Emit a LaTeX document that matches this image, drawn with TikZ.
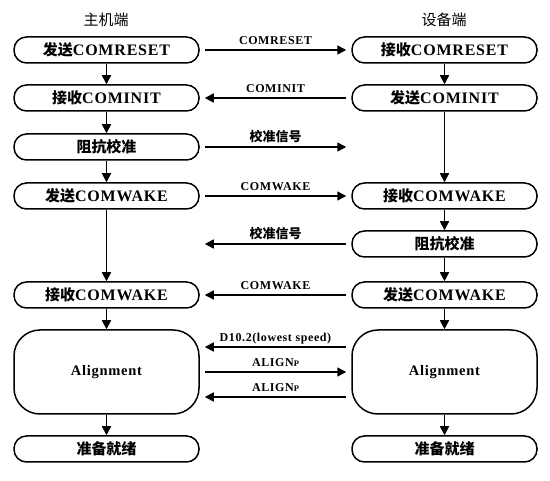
\documentclass[tikz,border=0pt]{standalone}
\usepackage{fontspec}
\setmainfont{Liberation Serif}[LetterSpace=5]
\newfontfamily\cjkb{Noto Sans CJK SC Medium}
\newfontfamily\cjkr{Noto Sans CJK SC}
\usetikzlibrary{arrows.meta}
\newcommand\zh[1]{{\fontsize{15}{15}\selectfont\cjkb #1}}
\newcommand\zhs[1]{{\fontsize{13}{13}\selectfont\cjkb #1}}
\newcommand\alp{ALIGN{\fontsize{8.5}{8.5}\selectfont P}}
\begin{document}
\begin{tikzpicture}[x=1pt,y=-1pt,
  box/.style={draw, line width=1.5pt, rounded corners=12.5pt, minimum width=185pt, minimum height=26pt, inner sep=0pt, font=\fontsize{16}{16}\selectfont\bfseries},
  bigbox/.style={box, rounded corners=26pt, minimum height=84pt, font=\fontsize{14.5}{14.5}\selectfont\bfseries},
  header/.style={inner sep=0pt, font=\fontsize{15}{15}\selectfont\cjkr},
  flow/.style={line width=1.6pt, -{Triangle[length=9pt,width=9pt]}},
  sig/.style={flow, shorten <=5pt, shorten >=5pt},
  lab/.style={anchor=base, inner sep=0pt, font=\fontsize{12}{12}\selectfont\bfseries},
]
\useasboundingbox (0,0) rectangle (550,481);

\node[header] (hl) at (106,20) {主机端};
\node[header] (hr) at (444,20) {设备端};

% host side
\node[box] (L1) at (106.5,50) {\zh{发送}COMRESET};
\node[box] (L2) at (106.5,98) {\zh{接收}COMINIT};
\node[box] (L3) at (106.5,147) {\zh{阻抗校准}};
\node[box] (L4) at (106.5,196) {\zh{发送}COMWAKE};
\node[box] (L6) at (106.5,295) {\zh{接收}COMWAKE};
\node[bigbox] (L7) at (106.5,372) {Alignment};
\node[box] (L8) at (106.5,449) {\zh{准备就绪}};

% device side
\node[box] (R1) at (444.5,50) {\zh{接收}COMRESET};
\node[box] (R2) at (444.5,98) {\zh{发送}COMINIT};
\node[box] (R4) at (444.5,196) {\zh{接收}COMWAKE};
\node[box] (R5) at (444.5,244) {\zh{阻抗校准}};
\node[box] (R6) at (444.5,295) {\zh{发送}COMWAKE};
\node[bigbox] (R7) at (444.5,372) {Alignment};
\node[box] (R8) at (444.5,449) {\zh{准备就绪}};

% vertical flow
\draw[flow] (L1) -- (L2);
\draw[flow] (L2) -- (L3);
\draw[flow] (L3) -- (L4);
\draw[flow] (L4) -- (L6);
\draw[flow] (L6) -- (L7);
\draw[flow] (L7) -- (L8);
\draw[flow] (R1) -- (R2);
\draw[flow] (R2) -- (R4);
\draw[flow] (R4) -- (R5);
\draw[flow] (R5) -- (R6);
\draw[flow] (R6) -- (R7);
\draw[flow] (R7) -- (R8);

% signals
\coordinate (c3) at (L3.east -| R1.west);
\coordinate (c5) at (R5.west -| L1.east);
\draw[sig] (L1.east) -- (R1.west) node[lab,midway,yshift=5pt] {COMRESET};
\draw[sig] (R2.west) -- (L2.east) node[lab,midway,yshift=5pt] {COMINIT};
\draw[sig] (L3.east) -- (c3) node[lab,midway,yshift=5pt] {\zhs{校准信号}};
\draw[sig] (L4.east) -- (R4.west) node[lab,midway,yshift=5pt] {COMWAKE};
\draw[sig] (R5.west) -- (c5) node[lab,midway,yshift=5pt] {\zhs{校准信号}};
\draw[sig] (R6.west) -- (L6.east) node[lab,midway,yshift=5pt] {COMWAKE};
\draw[sig] ([yshift=25pt]R7.west) -- ([yshift=25pt]L7.east) node[lab,midway,yshift=5pt] {D10.2(lowest speed)};
\draw[sig] (L7.east) -- (R7.west) node[lab,midway,yshift=5pt] {\alp};
\draw[sig] ([yshift=-25pt]R7.west) -- ([yshift=-25pt]L7.east) node[lab,midway,yshift=5pt] {\alp};
\end{tikzpicture}
\end{document}
